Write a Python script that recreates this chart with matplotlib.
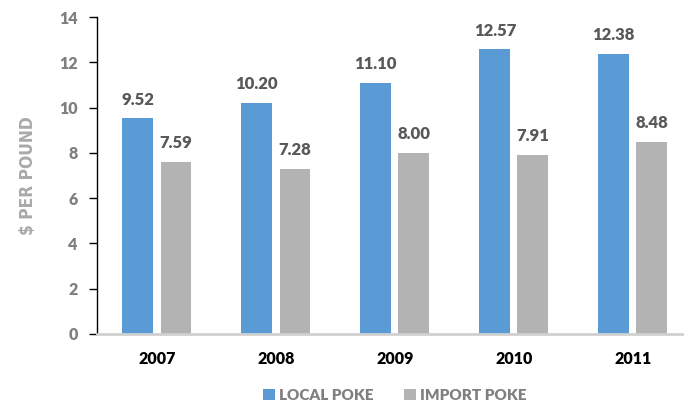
import matplotlib
matplotlib.use("Agg")
import matplotlib.pyplot as plt
import numpy as np

years = ["2007", "2008", "2009", "2010", "2011"]
local_poke = [9.52, 10.20, 11.10, 12.57, 12.38]
import_poke = [7.59, 7.28, 8.00, 7.91, 8.48]

blue = "#5B9BD5"
gray = "#B3B3B3"

plt.rcParams["font.family"] = ["Lato", "DejaVu Sans"]
plt.rcParams["font.weight"] = "bold"

fig = plt.figure(figsize=(6.84, 4.03), dpi=100)
ax = fig.add_axes([97 / 684, 69 / 403, 587 / 684, 317 / 403])

x = np.arange(len(years))
w = 0.26
b1 = ax.bar(x - 0.16, local_poke, w, color=blue, label="LOCAL POKE")
b2 = ax.bar(x + 0.16, import_poke, w, color=gray, label="IMPORT POKE")

for bars, vals in ((b1, local_poke), (b2, import_poke)):
    for r, v in zip(bars, vals):
        ax.text(r.get_x() + r.get_width() / 2, v + 0.48, f"{v:.2f}",
                ha="center", va="bottom", fontsize=12, fontweight="heavy",
                color="#595959")

ax.set_xlim(-0.504, 4.43)
ax.set_ylim(0, 14)
ax.set_yticks(range(0, 15, 2))
ax.set_xticks(x)
ax.set_xticklabels(years, fontsize=11.5, fontweight="heavy", color="black")
ax.tick_params(axis="x", length=0, pad=12)
ax.tick_params(axis="y", length=6, width=1, color="black", labelsize=11.5,
               labelcolor="#7F7F7F", pad=8)
for lbl in ax.get_yticklabels():
    lbl.set_fontweight("heavy")

for s in ("top", "right"):
    ax.spines[s].set_visible(False)
ax.spines["left"].set_color("black")
ax.spines["left"].set_linewidth(1)
ax.spines["bottom"].set_color("#D0D0D0")
ax.spines["bottom"].set_linewidth(2)

fig.text(28 / 684, 1 - 176 / 403, "$ PER POUND", rotation=90, ha="center",
         va="center", fontsize=12.5, fontweight="bold", fontstretch="condensed",
         color="#A9A9A9", family="DejaVu Sans")

leg = fig.legend(handles=[b1, b2], loc="center", bbox_to_anchor=(395 / 684, 1 - 395 / 403),
                 ncol=2, frameon=False, fontsize=11, handlelength=0.75, handleheight=0.75,
                 handletextpad=0.3, columnspacing=2.0, labelcolor="#7F7F7F")
for t in leg.get_texts():
    t.set_fontweight("heavy")

fig.savefig("out.png", dpi=100)
